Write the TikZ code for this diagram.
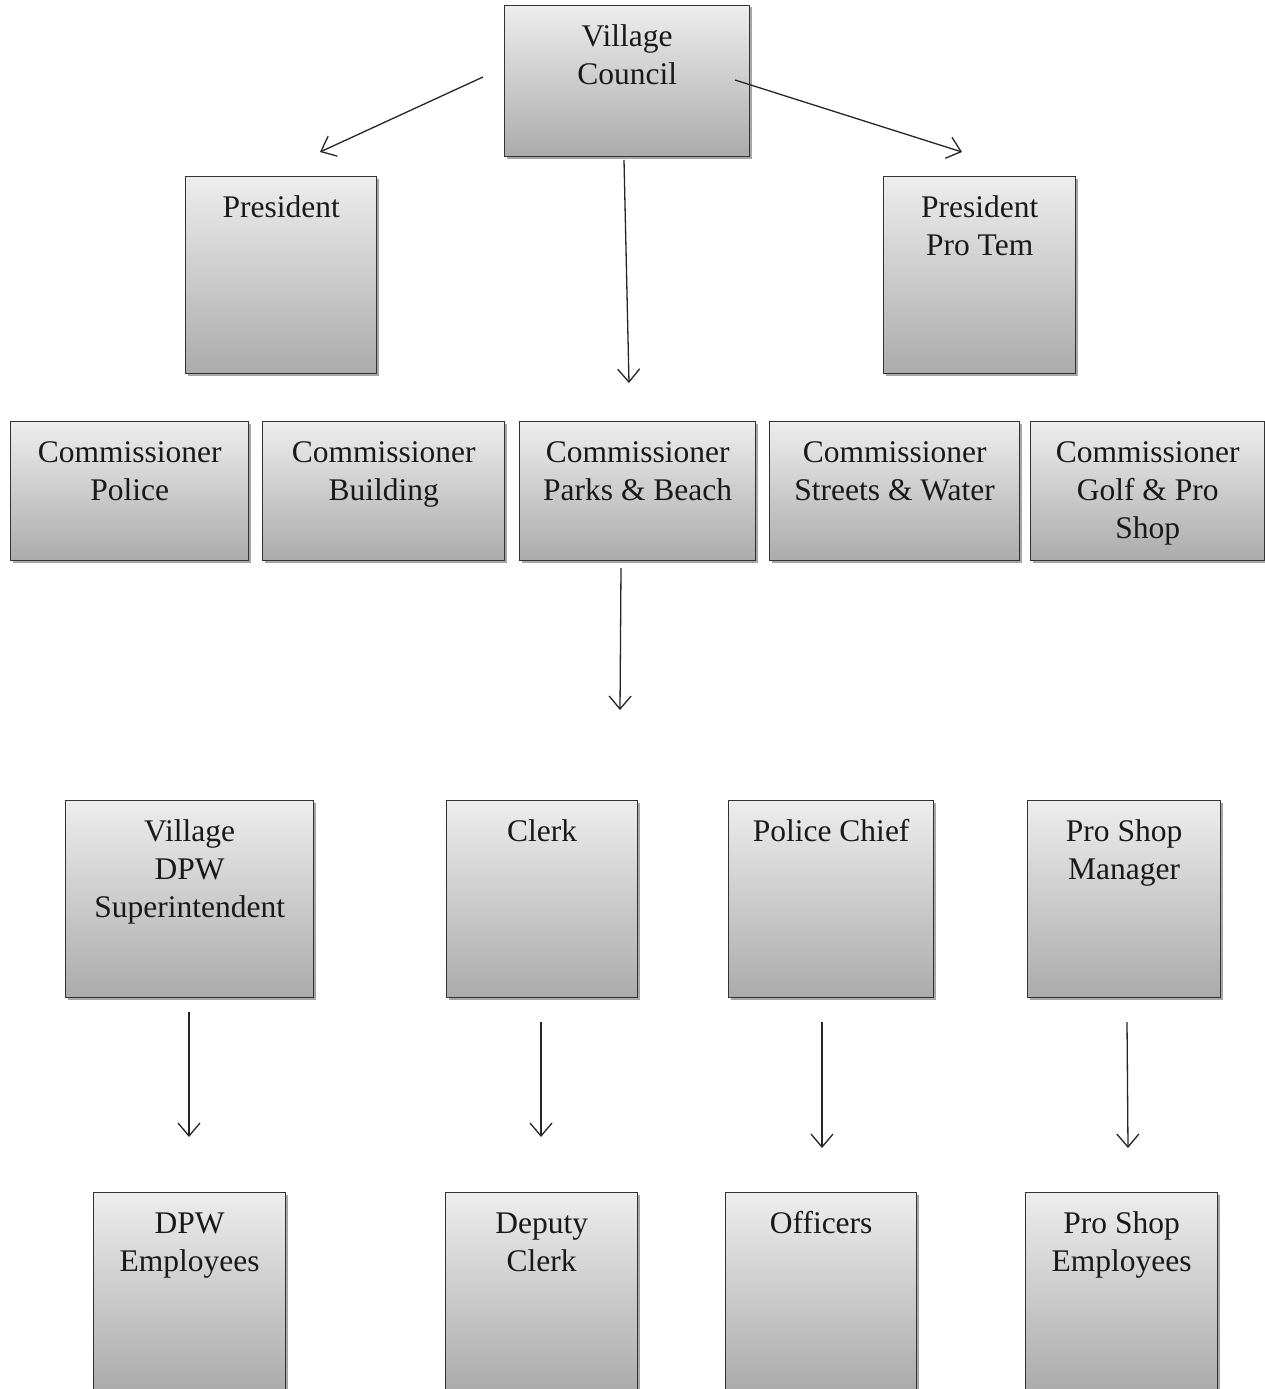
\documentclass[tikz,border=0pt]{standalone}
\usepackage{fontspec}
\setmainfont{Liberation Serif}
\usetikzlibrary{arrows.meta}
\tikzset{
  orgbox/.style={draw=black!80, line width=1.3pt, top color=black!7, bottom color=black!33,
    inner sep=0pt, anchor=north west},
  orgtxt/.style={align=center, inner sep=0pt, anchor=north, text=black!90,
    font=\fontsize{31.5}{38}\selectfont},
  arr/.style={line width=1.3pt, draw=black!85, -{Straight Barb[length=13pt,width=22pt,line width=1.3pt]}}
}
\newcommand\orgbox[6]{%
  \fill[black!35] (#2+2.5,#3+2.5) rectangle (#4+2.5,#5+2.5);
  \node[orgbox, minimum width=#4pt-#2pt, minimum height=#5pt-#3pt] (#1) at (#2,#3) {};
  \node[orgtxt] (#1-t) at ([yshift=-16pt]#1.north) {\rule{0pt}{25pt}#6};
}
\begin{document}
\begin{tikzpicture}[x=1pt,y=-1pt]
\useasboundingbox[fill=white] (0,0) rectangle (1265,1389);
\orgbox{vc}{504}{5}{749}{156}{Village\\Council}
\orgbox{pres}{185}{176}{376}{373}{President}
\orgbox{ppt}{883}{176}{1075}{373}{President\\Pro Tem}
\orgbox{cpol}{10}{421}{248}{560}{Commissioner\\Police}
\orgbox{cbld}{262}{421}{504}{560}{Commissioner\\Building}
\orgbox{cpar}{519}{421}{755}{560}{Commissioner\\Parks \& Beach}
\orgbox{cstr}{769}{421}{1019}{560}{Commissioner\\Streets \& Water}
\orgbox{cgol}{1030}{421}{1264}{560}{Commissioner\\Golf \& Pro\\Shop}
\orgbox{dpw}{65}{800}{313}{997}{Village\\DPW\\Superintendent}
\orgbox{clerk}{446}{800}{637}{997}{Clerk}
\orgbox{chief}{728}{800}{933}{997}{Police Chief}
\orgbox{psm}{1027}{800}{1220}{997}{Pro Shop\\Manager}
\orgbox{dpwe}{93}{1192}{285}{1389}{DPW\\Employees}
\orgbox{dep}{445}{1192}{637}{1389}{Deputy\\Clerk}
\orgbox{off}{725}{1192}{916}{1389}{Officers}
\orgbox{pse}{1025}{1192}{1217}{1389}{Pro Shop\\Employees}
% arrow end points
\coordinate (a1s) at (483,77);   \coordinate (a1e) at (320,152);
\coordinate (a2s) at (735,80);   \coordinate (a2e) at (962,152);
\coordinate (a3s) at (624,160);  \coordinate (a3e) at (629,383);
\coordinate (a4s) at (621,568);  \coordinate (a4e) at (620,710);
\coordinate (a5s) at (189,1012); \coordinate (a5e) at (189,1137);
\coordinate (a6s) at (541,1022); \coordinate (a6e) at (541,1137);
\coordinate (a7s) at (822,1022); \coordinate (a7e) at (822,1148);
\coordinate (a8s) at (1127,1022);\coordinate (a8e) at (1128,1148);
\foreach \i in {1,...,8} \draw[arr] (a\i s) -- (a\i e);
\end{tikzpicture}
\end{document}
